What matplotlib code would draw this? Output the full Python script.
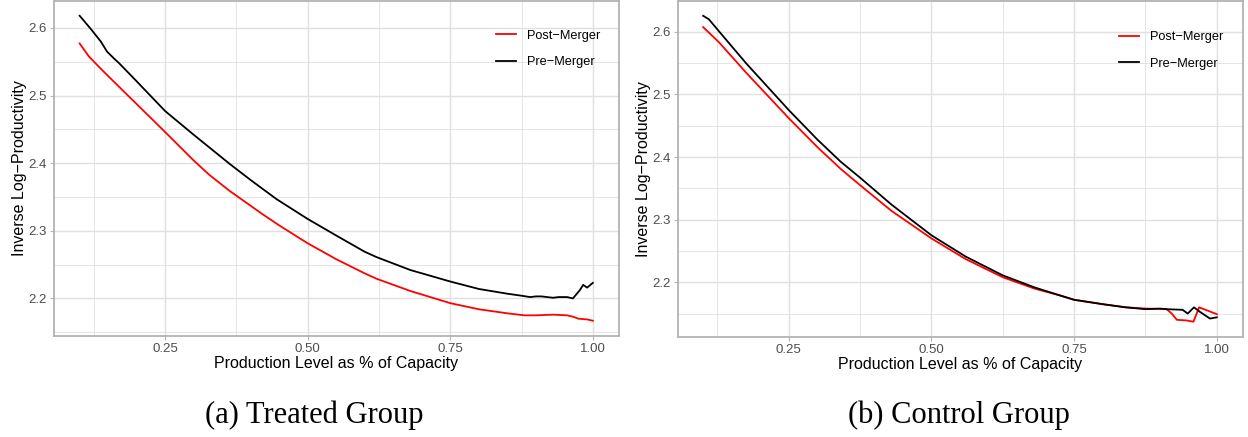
import matplotlib
matplotlib.use("Agg")
import matplotlib.pyplot as plt
from matplotlib.ticker import MultipleLocator

plt.rcParams["font.family"] = ["Liberation Sans", "DejaVu Sans"]

# Treated group (left panel)
treated_pre_x = [0.10, 0.12, 0.137, 0.148, 0.16, 0.169, 0.20, 0.25, 0.30, 0.363, 0.40,
                 0.445, 0.499, 0.55, 0.60, 0.621, 0.68, 0.75, 0.80, 0.85, 0.875,
                 0.89, 0.90, 0.91, 0.93, 0.94, 0.955, 0.965, 0.977, 0.983, 0.99, 1.0]
treated_pre_y = [2.618, 2.598, 2.580, 2.565, 2.555, 2.548, 2.521, 2.477, 2.442, 2.399, 2.375,
                 2.347, 2.318, 2.293, 2.269, 2.261, 2.242, 2.225, 2.214, 2.207, 2.204,
                 2.202, 2.203, 2.203, 2.201, 2.202, 2.202, 2.200, 2.212, 2.220, 2.216, 2.223]
treated_post_x = [0.10, 0.116, 0.139, 0.151, 0.192, 0.25, 0.30, 0.327, 0.363, 0.42, 0.45,
                  0.499, 0.55, 0.60, 0.621, 0.68, 0.75, 0.80, 0.85, 0.88, 0.90, 0.93,
                  0.955, 0.965, 0.975, 0.99, 1.0]
treated_post_y = [2.577, 2.558, 2.538, 2.528, 2.494, 2.446, 2.404, 2.383, 2.359, 2.325, 2.308,
                  2.282, 2.258, 2.237, 2.229, 2.211, 2.193, 2.184, 2.178, 2.175, 2.175, 2.176,
                  2.175, 2.173, 2.170, 2.169, 2.167]

# Control group (right panel)
control_pre_x = [0.10, 0.11, 0.128, 0.175, 0.25, 0.30, 0.341, 0.375, 0.43, 0.50, 0.56,
                 0.625, 0.68, 0.725, 0.75, 0.80, 0.84, 0.875, 0.90, 0.912, 0.94, 0.949,
                 0.96, 0.97, 0.988, 1.0]
control_pre_y = [2.6256, 2.620, 2.6005, 2.550, 2.475, 2.428, 2.3925, 2.367, 2.324, 2.275, 2.241,
                 2.211, 2.192, 2.179, 2.172, 2.165, 2.160, 2.157, 2.158, 2.157, 2.156, 2.150,
                 2.160, 2.153, 2.142, 2.144]
control_post_x = [0.10, 0.128, 0.175, 0.25, 0.30, 0.341, 0.375, 0.43, 0.50, 0.56, 0.625,
                  0.68, 0.725, 0.75, 0.80, 0.84, 0.875, 0.912, 0.921, 0.93, 0.947, 0.959,
                  0.969, 1.0]
control_post_y = [2.6075, 2.583, 2.535, 2.462, 2.416, 2.381, 2.355, 2.314, 2.270, 2.237, 2.208,
                  2.190, 2.179, 2.172, 2.165, 2.160, 2.158, 2.157, 2.150, 2.140, 2.139, 2.137,
                  2.160, 2.149]

panels = [
    ("(a) Treated Group", treated_post_x, treated_post_y, treated_pre_x, treated_pre_y),
    ("(b) Control Group", control_post_x, control_post_y, control_pre_x, control_pre_y),
]

W, H = 1248, 437
fig = plt.figure(figsize=(W / 100, H / 100), dpi=100)

# axes boxes in pixels: left, top, right, bottom
boxes = [(54, 0.5, 618.5, 336), (677.5, 0.5, 1242.5, 337)]
legend_pos = [(0.783, 0.913), (0.782, 0.909)]
caption_x = [314, 959]
grid_col = "#e0e0e0"
border_col = "#b3b3b3"

for (caption, px, py, bx, by), (l, t, r, b), lpos, cx in zip(panels, boxes, legend_pos, caption_x):
    ax = fig.add_axes([l / W, 1 - b / H, (r - l) / W, (b - t) / H])
    ax.plot(px, py, color="red", lw=1.3, label="Post\u2212Merger")
    ax.plot(bx, by, color="black", lw=1.3, label="Pre\u2212Merger")
    ax.margins(0.05)

    ax.xaxis.set_major_locator(MultipleLocator(0.25))
    ax.xaxis.set_minor_locator(MultipleLocator(0.125))
    ax.yaxis.set_major_locator(MultipleLocator(0.1))
    ax.yaxis.set_minor_locator(MultipleLocator(0.05))
    ax.set_xticks([0.25, 0.5, 0.75, 1.0])
    ax.set_xticklabels(["0.25", "0.50", "0.75", "1.00"])

    ax.grid(True, which="major", color=grid_col, lw=1.0)
    ax.grid(True, which="minor", color=grid_col, lw=0.6)
    ax.set_axisbelow(True)
    for s in ax.spines.values():
        s.set_color(border_col)
        s.set_linewidth(1.3)
    ax.tick_params(which="major", length=3, width=0.8, color=border_col,
                   labelsize=9.5, labelcolor="#4d4d4d", pad=2)
    ax.tick_params(which="minor", length=0)

    ax.set_xlabel("Production Level as % of Capacity", fontsize=11.5, labelpad=1)
    ax.set_ylabel("Inverse Log\u2212Productivity", fontsize=11.5, labelpad=1)

    ax.legend(loc="upper left", bbox_to_anchor=lpos, frameon=False, fontsize=9.2,
              handlelength=1.55, handletextpad=0.85, labelspacing=1.15,
              borderpad=0, borderaxespad=0)

    fig.text(cx / W, 1 - 415 / H, caption, ha="center", va="center",
             fontsize=22, family=["Liberation Serif", "DejaVu Serif"])

fig.savefig("out.png", dpi=100)
